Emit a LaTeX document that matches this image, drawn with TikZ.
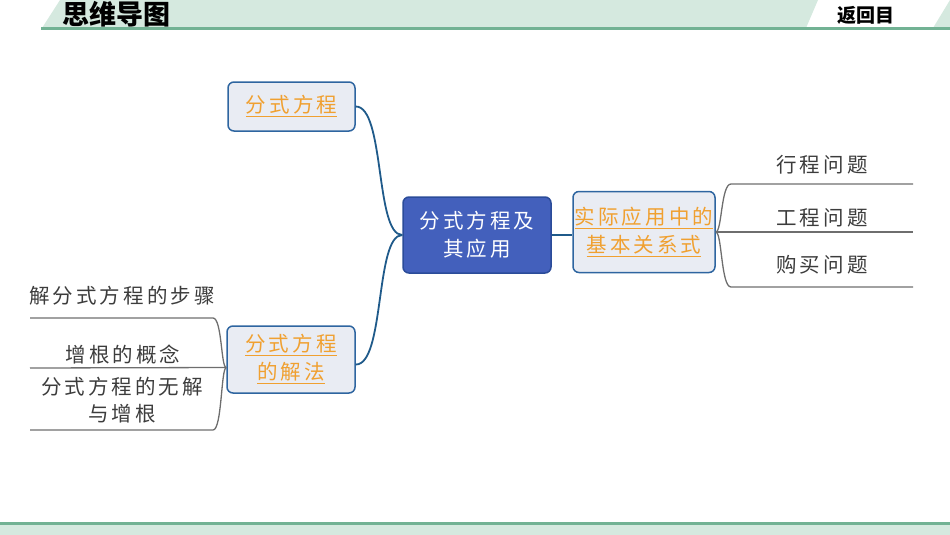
\documentclass[tikz,border=0pt]{standalone}
\usepackage{fontspec}
\newfontfamily\cjk{Noto Sans CJK SC}[LetterSpace=15]
\newfontfamily\cjkh{Noto Sans CJK SC}
\definecolor{bandgreen}{HTML}{D5E9DF}
\definecolor{linegreen}{HTML}{72B294}
\definecolor{boxfill}{HTML}{E9ECF3}
\definecolor{boxline}{HTML}{2E65A0}
\definecolor{mainfill}{HTML}{4360BC}
\definecolor{mainline}{HTML}{2B4C99}
\definecolor{myorange}{HTML}{F0A030}
\definecolor{conn}{HTML}{1F5A8A}
\definecolor{leafline}{HTML}{6E6E6E}
\definecolor{leaftext}{HTML}{3C3C3C}
\newcommand\oul[1]{\setbox0\hbox{#1}\rlap{\copy0}\rule[-4.5pt]{\wd0}{1.3pt}}
\tikzset{
  subbox/.style={draw=boxline, fill=boxfill, line width=1.5pt, rounded corners=6pt,
    inner sep=0pt, align=center, text=myorange,
    font=\cjk\fontsize{20.5}{28}\selectfont},
  mainbox/.style={draw=mainline, fill=mainfill, line width=1.5pt, rounded corners=6pt,
    inner sep=0pt, align=center, text=white,
    font=\cjk\fontsize{20.5}{28}\selectfont},
  leaf/.style={inner sep=0pt, align=center, text=leaftext,
    font=\cjk\fontsize{20.5}{27}\selectfont},
  blueconn/.style={draw=conn, line width=1.8pt},
  grayconn/.style={draw=leafline, line width=1.3pt},
}
\begin{document}
\begin{tikzpicture}[x=1pt,y=-1pt]
\useasboundingbox (0,0) rectangle (950,535);
% header
\fill[bandgreen] (42,28) -- (60,0) -- (818,0) -- (806,28) -- cycle;
\fill[bandgreen] (933,28) -- (950,0) -- (950,28) -- cycle;
\fill[linegreen] (41,27.5) rectangle (950,30);
\node[font=\cjkh\bfseries\fontsize{27}{27}\selectfont, inner sep=0pt] (title) at (116,14) {思维导图};
\node[font=\cjkh\bfseries\fontsize{19}{19}\selectfont, inner sep=0pt] (back) at (866,15) {返回目};
% footer
\fill[bandgreen] (0,524) rectangle (950,535);
\fill[linegreen] (0,522) rectangle (950,525);
% boxes
\node[mainbox, minimum width=148pt, minimum height=76pt] (main) at (477,235) {分式方程及\\其应用};
\node[subbox, minimum width=127pt, minimum height=49pt] (b1) at (291.5,106.5) {\oul{分式方程}};
\node[subbox, minimum width=128pt, minimum height=67pt] (b2) at (291,359.5) {\oul{分式方程}\\\oul{的解法}};
\node[subbox, minimum width=142pt, minimum height=81pt] (b3) at (644,232) {\oul{实际应用中的}\\\oul{基本关系式}};
% blue connectors
\draw[blueconn] (b1.east) .. controls (385,106.5) and (375,235) .. (main.west);
\draw[blueconn] (main.west) .. controls (375,235) and (385,365) .. ([yshift=-5pt]b2.east);
\draw[blueconn] (main.east) -- (main.east -| b3.west);
% right leaves
\coordinate (r1) at (913,184);
\coordinate (r2) at (913,232);
\coordinate (r3) at (913,287);
\draw[grayconn] (b3.east) .. controls (722,232) and (721,184) .. (731,184) -- (r1);
\draw[grayconn] (b3.east) -- (r2);
\draw[grayconn] (b3.east) .. controls (722,232) and (721,287) .. (731,287) -- (r3);
\node[leaf] (t1) at (822,165) {行程问题};
\node[leaf] (t2) at (822,218) {工程问题};
\node[leaf] (t3) at (822,265) {购买问题};
% left leaves
\coordinate (l1) at (30,318);
\coordinate (l2) at (30,368);
\coordinate (l3) at (30,430);
\draw[grayconn] ([yshift=-8pt]b2.west) .. controls (221,368) and (222,318) .. (213,318) -- (l1);
\draw[grayconn] ([yshift=-8pt]b2.west) -- (l2);
\draw[grayconn] ([yshift=-8pt]b2.west) .. controls (221,368) and (222,430) .. (213,430) -- (l3);
\node[leaf] (s1) at (122,296) {解分式方程的步骤};
\node[leaf] (s2) at (123,355) {增根的概念};
\node[leaf] (s3) at (122,400) {分式方程的无解\\与增根};
\end{tikzpicture}
\end{document}
